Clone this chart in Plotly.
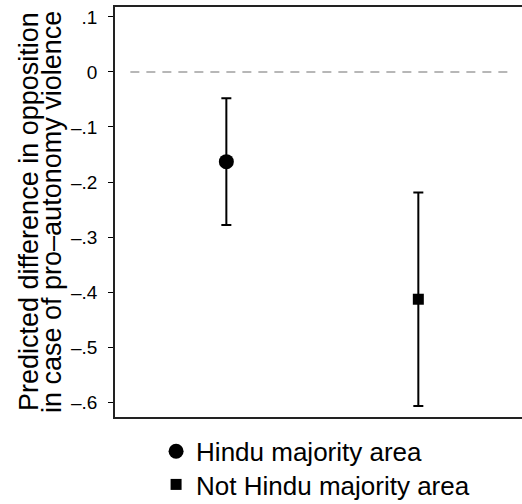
import plotly.graph_objects as go

# Data
groups = ["Hindu majority area", "Not Hindu majority area"]
x_pos = [1, 2]
estimates = [-0.163, -0.413]
ci_half = [0.115, 0.194]
symbols = ["circle", "square"]
marker_sizes = [15, 11]

tick_vals = [0.1, 0, -0.1, -0.2, -0.3, -0.4, -0.5, -0.6]
tick_text = [".1", "0", "–.1", "–.2", "–.3", "–.4", "–.5", "–.6"]

title_lines = ["Predicted difference in opposition", "in case of pro–autonomy violence"]

FONT = "Liberation Sans, Arial, Helvetica, sans-serif"
legend_ids = ["legend", "legend2"]

fig = go.Figure()
for i, g in enumerate(groups):
    fig.add_trace(go.Scatter(
        x=[x_pos[i]], y=[estimates[i]], mode="markers", name=g,
        legend=legend_ids[i],
        marker=dict(symbol=symbols[i], size=marker_sizes[i], color="black"),
        error_y=dict(type="data", array=[ci_half[i]], visible=True,
                     color="black", thickness=2, width=5),
    ))

fig.add_shape(type="line", xref="x", yref="y", x0=0.5, x1=2.5, y0=0, y1=0,
              line=dict(color="#a0a0a0", width=1.6, dash="9px,7px"), layer="below")

# y-axis title as two tightly spaced rotated lines
for j, (txt, shift) in enumerate(zip(title_lines, [-86, -63])):
    fig.add_annotation(text=txt, xref="paper", yref="paper", x=0, y=0.5,
                       xanchor="center", yanchor="middle", xshift=shift,
                       textangle=-90, showarrow=False,
                       font=dict(size=27, family=FONT, color="black"))

legend_style = dict(xref="container", yref="container", x=0.299, xanchor="left",
                    yanchor="top", font=dict(size=26, family=FONT),
                    itemsizing="trace", bgcolor="rgba(0,0,0,0)")

fig.update_layout(
    width=522, height=504,
    margin=dict(l=115, r=0, t=7, b=87, autoexpand=False),
    paper_bgcolor="white", plot_bgcolor="white",
    font=dict(family=FONT, color="black"),
    showlegend=True,
    legend=dict(legend_style, y=0.151),
    legend2=dict(legend_style, y=0.0853),
    xaxis=dict(range=[0.42, 2.54], showticklabels=False, ticks="",
               showgrid=False, zeroline=False, showline=True, mirror=True,
               linecolor="#222", linewidth=2, automargin=False),
    yaxis=dict(range=[-0.627, 0.118], tickvals=tick_vals, ticktext=tick_text,
               ticks="outside", ticklen=5, tickwidth=1.3, tickcolor="black",
               ticklabelstandoff=7,
               tickfont=dict(size=19, family=FONT),
               showgrid=False, zeroline=False, showline=True, mirror=False,
               linecolor="#222", linewidth=1.5, automargin=False),
)

fig.write_html("out.html", config={"displayModeBar": False},
               post_script="document.body.style.margin='0';document.body.style.overflow='hidden';")
